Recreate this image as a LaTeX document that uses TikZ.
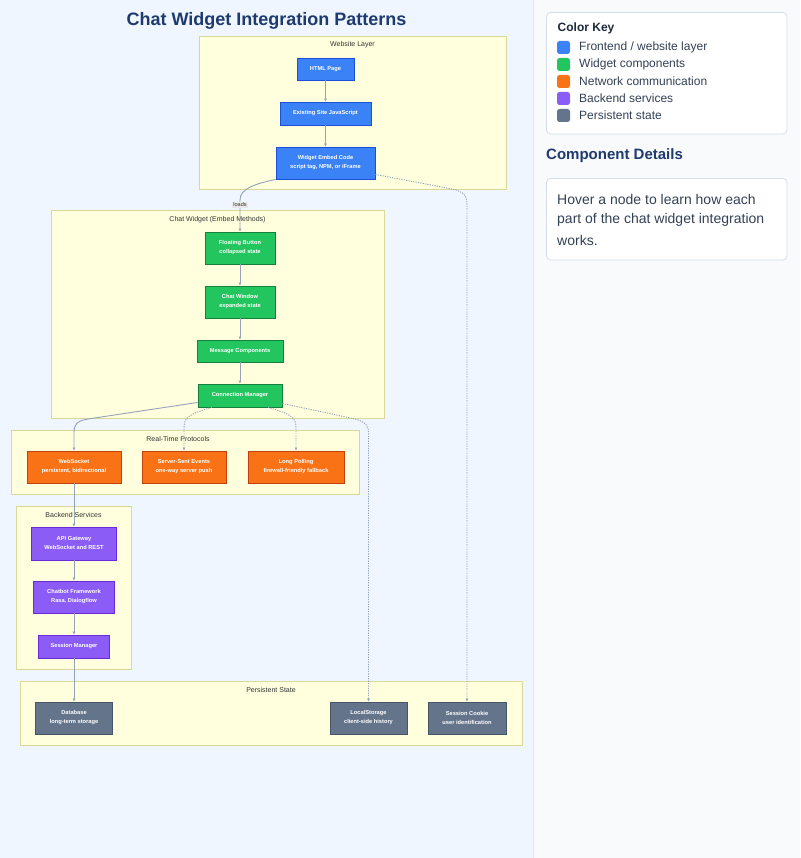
\documentclass[tikz,border=0pt]{standalone}
\usepackage{fontspec}
\setmainfont{Liberation Sans}
\usetikzlibrary{arrows.meta,calc}
\definecolor{leftbg}{HTML}{EFF6FF}
\definecolor{rightbg}{HTML}{F8FAFC}
\definecolor{panelline}{HTML}{E2E8F0}
\definecolor{boxline}{HTML}{D5DEE8}
\definecolor{titlecol}{HTML}{1E3A6E}
\definecolor{keytitle}{HTML}{1E293B}
\definecolor{paneltext}{HTML}{334155}
\definecolor{clfill}{HTML}{FFFFDE}
\definecolor{clline}{HTML}{D8D89A}
\definecolor{edgecol}{HTML}{94A3B8}
\definecolor{bluef}{HTML}{3B82F6}\definecolor{blued}{HTML}{1D4ED8}
\definecolor{greenf}{HTML}{22C55E}\definecolor{greend}{HTML}{15803D}
\definecolor{orangef}{HTML}{F97316}\definecolor{oranged}{HTML}{C2410C}
\definecolor{purplef}{HTML}{8B5CF6}\definecolor{purpled}{HTML}{6D28D9}
\definecolor{slatef}{HTML}{64748B}\definecolor{slated}{HTML}{475569}
\definecolor{lblbg}{HTML}{E8E8E8}
\begin{document}
\begin{tikzpicture}[x=1pt,y=-1pt,
  nodebox/.style={draw, line width=0.9pt, text=white, inner sep=0pt, align=center,
    font=\fontsize{5.7}{9}\selectfont\bfseries},
  fe/.style={nodebox, fill=bluef, draw=blued},
  wg/.style={nodebox, fill=greenf, draw=greend},
  nw/.style={nodebox, fill=orangef, draw=oranged},
  be/.style={nodebox, fill=purplef, draw=purpled},
  ps/.style={nodebox, fill=slatef, draw=slated},
  cluster/.style={fill=clfill, draw=clline, line width=0.8pt},
  cllabel/.style={text=black!80, font=\fontsize{7}{8}\selectfont, inner sep=0pt},
  edge/.style={draw=edgecol, line width=0.9pt, -{Latex[length=3pt,width=3pt]}},
  dotedge/.style={edge, dash pattern=on 1.2pt off 1.2pt},
  elabel/.style={fill=lblbg, font=\fontsize{5.5}{6}\selectfont, inner sep=1pt, text=black!80},
  keysq/.style={fill=#1, rounded corners=2.5pt, minimum size=13pt, inner sep=0pt},
  keytext/.style={anchor=west, text=paneltext, font=\fontsize{12}{14}\selectfont, inner sep=0pt},
  panelbox/.style={fill=white, draw=boxline, line width=0.8pt, rounded corners=4pt}
]
\useasboundingbox (0,0) rectangle (800,858);
% backgrounds
\fill[leftbg] (0,0) rectangle (533,858);
\fill[rightbg] (533,0) rectangle (800,858);
\draw[panelline, line width=0.8pt] (533,0) -- (533,858);

% title
\node[text=titlecol, font=\fontsize{18}{21}\selectfont\bfseries, inner sep=0pt] (title) at (266.5,21) {Chat Widget Integration Patterns};

% clusters
\draw[cluster] (199,36) rectangle (506,189);
\node[cllabel] (lweb) at (352.5,45) {Website Layer};
\draw[cluster] (51,210) rectangle (384,418);
\node[cllabel] (lchat) at (217.5,220) {Chat Widget (Embed Methods)};
\draw[cluster] (11,430) rectangle (359,494);
\node[cllabel] (lrt) at (178,439) {Real-Time Protocols};
\draw[cluster] (16,506) rectangle (131,669);
\node[cllabel] (lbe) at (73.5,515) {Backend Services};
\draw[cluster] (20,681) rectangle (522,745);
\node[cllabel] (lps) at (271,690) {Persistent State};

% nodes
\node[fe, minimum width=57pt, minimum height=22pt] (html) at (325.5,69) {HTML Page};
\node[fe, minimum width=91pt, minimum height=23pt] (js) at (325.5,113.5) {Existing Site JavaScript};
\node[fe, minimum width=99pt, minimum height=32pt] (emb) at (325.5,163) {Widget Embed Code\\script tag, NPM, or iFrame};

\node[wg, minimum width=70pt, minimum height=32pt] (fb) at (240,248) {Floating Button\\collapsed state};
\node[wg, minimum width=70pt, minimum height=32pt] (cw) at (240,302) {Chat Window\\expanded state};
\node[wg, minimum width=86pt, minimum height=22pt] (mc) at (240,351) {Message Components};
\node[wg, minimum width=84pt, minimum height=23pt] (cm) at (240,395.5) {Connection Manager};

\node[nw, minimum width=94pt, minimum height=32pt] (ws) at (74,467) {WebSocket\\persistent, bidirectional};
\node[nw, minimum width=84pt, minimum height=32pt] (sse) at (184,467) {Server-Sent Events\\one-way server push};
\node[nw, minimum width=96pt, minimum height=32pt] (lp) at (296,467) {Long Polling\\firewall-friendly fallback};

\node[be, minimum width=85pt, minimum height=33pt] (api) at (74,543.5) {API Gateway\\WebSocket and REST};
\node[be, minimum width=81pt, minimum height=32pt] (cf) at (74,597) {Chatbot Framework\\Rasa, Dialogflow};
\node[be, minimum width=71pt, minimum height=23pt] (sm) at (74,646.5) {Session Manager};

\node[ps, minimum width=77pt, minimum height=32pt] (db) at (74,718) {Database\\long-term storage};
\node[ps, minimum width=77pt, minimum height=32pt] (ls) at (368.5,718) {LocalStorage\\client-side history};
\node[ps, minimum width=78pt, minimum height=32pt] (sc) at (467,718) {Session Cookie\\user identification};

% edges
\draw[edge] (html) -- (js);
\draw[edge] (js) -- (emb);
\draw[edge] (emb.south west) .. controls (254,184) and (240,189) .. (240,200) -- (fb.north);
\node[elabel] (loads) at (240,205) {loads};
\draw[dotedge] ($(emb.south east)+(0,-5)$) -- (452,189) .. controls (465,192) and (467,196) .. (467,206) -- (sc.north);
\draw[edge] (fb) -- (cw);
\draw[edge] (cw) -- (mc);
\draw[edge] (mc) -- (cm);
\draw[edge] ($(cm.south west)+(0,-5)$) -- (88,419) .. controls (76,421) and (74,425) .. (74,433) -- (ws.north);
\draw[dotedge] ($(cm.south)+(-28,0)$) .. controls (188,414) and (184,418) .. (184,428) -- (sse.north);
\draw[dotedge] ($(cm.south)+(28,0)$) .. controls (292,414) and (296,418) .. (296,428) -- (lp.north);
\draw[dotedge] ($(cm.south east)+(0,-4)$) -- (355,419) .. controls (366,422) and (368.5,426) .. (368.5,433) -- (ls.north);
\draw[edge] (ws) -- (api);
\draw[edge] (api) -- (cf);
\draw[edge] (cf) -- (sm);
\draw[edge] (sm) -- (db);

% right panel: color key
\draw[panelbox] (546.5,12.5) rectangle (787,134);
\node[anchor=west, text=keytitle, font=\fontsize{12}{14}\selectfont\bfseries, inner sep=0pt] (keyhead) at (557.5,28) {Color Key};
\node[keysq=bluef] (k1) at (563.5,47.5) {};
\node[keytext] (t1) at (579,47.5) {Frontend / website layer};
\node[keysq=greenf] (k2) at (563.5,64.5) {};
\node[keytext] (t2) at (579,64.5) {Widget components};
\node[keysq=orangef] (k3) at (563.5,81.5) {};
\node[keytext] (t3) at (579,81.5) {Network communication};
\node[keysq=purplef] (k4) at (563.5,98.5) {};
\node[keytext] (t4) at (579,98.5) {Backend services};
\node[keysq=slatef] (k5) at (563.5,115.5) {};
\node[keytext] (t5) at (579,115.5) {Persistent state};

% component details
\node[anchor=west, text=titlecol, font=\fontsize{15}{18}\selectfont\bfseries, inner sep=0pt] (dethead) at (546,156) {Component Details};
\draw[panelbox] (546.5,178.5) rectangle (787,260);
\node[anchor=west, text=paneltext, font=\fontsize{14}{16}\selectfont, inner sep=0pt] (d1) at (557,199) {Hover a node to learn how each};
\node[anchor=west, text=paneltext, font=\fontsize{14}{16}\selectfont, inner sep=0pt] (d2) at (557,219.5) {part of the chat widget integration};
\node[anchor=west, text=paneltext, font=\fontsize{14}{16}\selectfont, inner sep=0pt] (d3) at (557,240) {works.};
\end{tikzpicture}
\end{document}
